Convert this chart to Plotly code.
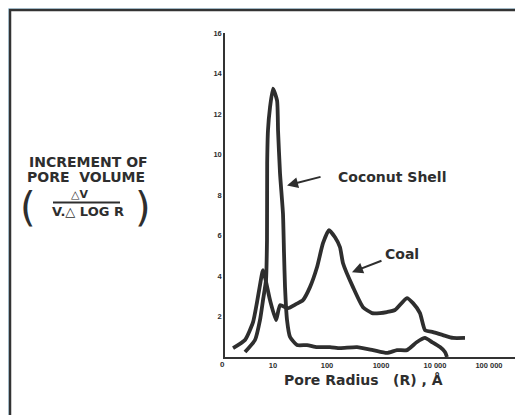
import math
import plotly.graph_objects as go

# ---- data ----
coal_r = [1.82, 3.03, 4.27, 5.06, 5.74, 6.53, 8.8, 11.4, 13.5, 19.0, 26.7, 35.9, 48.4, 65.3, 84.3,
          108.9, 140.7, 174, 198, 303, 464, 681, 957, 1291, 1816, 3027, 3915, 5275, 6531, 9190,
          14070, 21540, 35940]
coal_v = [0.44, 0.84, 1.72, 2.71, 3.55, 4.29, 2.81, 1.82, 2.56, 2.41, 2.61, 2.81, 3.45, 4.43, 5.62,
          6.26, 5.91, 5.42, 4.63, 3.45, 2.46, 2.17, 2.17, 2.22, 2.32, 2.91, 2.66, 2.17, 1.33, 1.23,
          1.08, 0.94, 0.94]

coco_r = [3.03, 4.64, 5.74, 6.53, 7.42, 7.74, 7.80, 8.07, 8.80, 10.0, 11.9, 12.4, 13.5, 15.3, 16.0,
          16.7, 18.2, 20.7, 27.8, 42.6, 65.3, 113.6, 174, 359, 711, 1291, 1977, 3027, 4642, 6531,
          8790, 12390, 15310, 16680]
coco_v = [0.25, 0.84, 1.82, 2.81, 3.79, 5.76, 9.56, 11.18, 12.32, 13.25, 12.66, 11.18, 9.06, 7.09, 5.12,
          3.45, 1.82, 0.99, 0.59, 0.59, 0.49, 0.49, 0.44, 0.49, 0.34, 0.20, 0.34, 0.34, 0.74, 0.94,
          0.74, 0.49, 0.25, 0.0]

y_ticks = [2, 4, 6, 8, 10, 12, 14, 16]
x_ticks = [10, 100, 1000, 10000, 100000]
x_tick_text = ["10", "100", "1000", "10 000", "100 000"]

labels = ["Coconut Shell", "Coal"]
label_pos = [(1600, 8.87), (2449, 5.07)]
arrow_tip = [(18.2, 8.47), (290, 4.19)]
arrow_tail_offset = [(35, -9), (31, -12)]

INK = "#2e2e2e"
OFF = 8  # page body margin

fig = go.Figure()
for xs, ys in ((coal_r, coal_v), (coco_r, coco_v)):
    fig.add_trace(go.Scatter(x=xs, y=ys, mode="lines",
                             line=dict(color=INK, width=3.8, shape="spline", smoothing=0.5),
                             showlegend=False, hoverinfo="skip"))

W, H = 523, 415
PW, PH = 298, 324
L, T = 225 - OFF, 33 - OFF


def px(xp):
    return (xp - OFF - L) / PW


def py(yp):
    return (T + PH - (yp - OFF)) / PH


# frame
fig.add_shape(type="rect", xref="paper", yref="paper", x0=px(10), x1=px(560), y0=py(460), y1=py(10),
              fillcolor="white", line=dict(color="#333333", width=2.5), layer="below")
# fraction bar
fig.add_shape(type="line", xref="paper", yref="paper", x0=px(53), x1=px(120), y0=py(202.5), y1=py(202.5),
              line=dict(color=INK, width=1.8))

ann = []
for t, (xx, yy) in zip(labels, label_pos):
    ann.append(dict(x=math.log10(xx), y=yy, xref="x", yref="y", text=t, showarrow=False,
                    xanchor="center", yanchor="middle",
                    font=dict(family="DejaVu Sans", size=14, color=INK, weight="bold")))
for (xx, yy), (dx, dy) in zip(arrow_tip, arrow_tail_offset):
    ann.append(dict(x=math.log10(xx), y=yy, xref="x", yref="y", text="", showarrow=True,
                    ax=dx, ay=dy, arrowhead=2, arrowsize=1.1, arrowwidth=2, arrowcolor=INK, standoff=0))


def txt(x, y, s, size, family="DejaVu Sans", weight="bold"):
    return dict(x=px(x), y=py(y), xref="paper", yref="paper", text=s, showarrow=False,
                xanchor="center", yanchor="middle",
                font=dict(family=family, size=size, color=INK, weight=weight))


ann += [
    txt(88, 162, "INCREMENT OF", 14),
    txt(86, 177, "PORE  VOLUME", 14),
    txt(79, 194.5, "△V", 11),
    txt(88, 211.5, "V.△ LOG R", 13),
    txt(28, 207, "(", 40, weight="normal"),
    txt(143, 207, ")", 40, weight="normal"),
    txt(363, 380, "Pore Radius   (R) , Å", 14),
    txt(222, 364, "0", 8, family="Liberation Sans"),
]

fig.update_layout(
    width=W, height=H, autosize=False,
    margin=dict(l=L, r=W - L - PW, t=T, b=H - T - PH, pad=0),
    paper_bgcolor="#c9e7f8", plot_bgcolor="white",
    annotations=ann,
    xaxis=dict(type="log", range=[0.111, 5.63], showline=True, linecolor="#333333", linewidth=1.5,
               showgrid=False, zeroline=False, ticks="", tickvals=x_ticks, ticktext=x_tick_text,
               tickfont=dict(family="Liberation Sans", size=7.5, color=INK, weight="bold")),
    yaxis=dict(range=[0, 16], showline=True, linecolor="#333333", linewidth=1.5,
               showgrid=False, zeroline=False, ticks="", tickvals=y_ticks,
               tickfont=dict(family="Liberation Sans", size=7.5, color=INK, weight="bold")),
)

fig.write_html("out.html")
